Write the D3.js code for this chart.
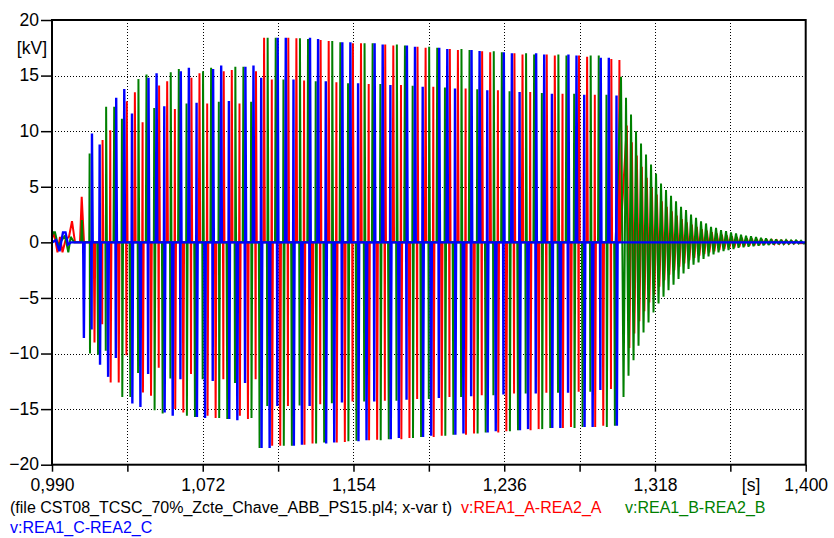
<!DOCTYPE html>
<html><head><meta charset="utf-8">
<script src="https://cdn.jsdelivr.net/npm/d3@7"></script>
<style>
body{margin:0;background:#fff}
svg{display:block}
text{font-family:"Liberation Sans",Arial,Helvetica,sans-serif}
</style>
</head><body>
<svg id="chart" width="834" height="538"></svg>
<script>
// ---------------- data ----------------
const xDomain = [0.990, 1.400];
const yDomain = [-20, 20];
const xTickTimes  = [0.990,1.031,1.072,1.113,1.154,1.195,1.236,1.277,1.318,1.359,1.400];
const xTickLabels = ["0,990","","1,072","","1,154","","1,236","","1,318","","1,400"];
const xUnitTime = 1.3703, xUnitText = "[s]";
const yTicks = [-20,-15,-10,-5,0,5,10,15,20];
const yUnitText = "[kV]";

const seriesNames  = ["v:REA1_A-REA2_A","v:REA1_B-REA2_B","v:REA1_C-REA2_C"];
const seriesColors = ["#ff0000","#008000","#0000ff"];
const fileLabel = "(file CST08_TCSC_70%_Zcte_Chave_ABB_PS15.pl4; x-var t)";

// small oscillations before the TCSC pulses: [time, kV]
const preRed   = [[0.9900,0.3],[0.99109,0.9],[0.99299,-0.9],[0.99435,0.5],[0.99571,-0.9],[0.99734,0.2],[0.99925,0.5],[1.00088,1.9],[1.00251,0],[1.00523,0],[1.00616,4.1],[1.00741,0],[1.01176,0]];
const preGreen = [[0.9900,0.6],[0.99082,0.9],[0.99163,0.9],[0.99343,-0.4],[0.9949,0.1],[0.99707,0.6],[0.99887,-0.9],[1.00017,0.5],[1.00197,0],[1.00414,0]];
const preBlue  = [[0.9900,0],[0.99218,0.2],[0.99408,-0.8],[0.99598,0.9],[0.99734,0.9],[0.9987,-0.2],[1.00034,0],[1.00523,0]];

// pulse peaks (kV), one per pulse, pulses evenly spaced by pulseStep from each start time
const pulseStep = 0.004393;
const redStart = 1.01312, greenStart = 1.00627, blueStart = 1.00735;
const redPeaks = [-9,9.2,-12.6,-12.6,12.7,13.5,-13.5,-13.8,14.1,14.5,-15.0,-15.3,14.8,15.2,-15.6,-15.8,
  15.4,15.5,-15.6,-15.9,15.4,18.4,-18.3,-18.3,18.4,18.35,-18.2,-18.1,18.2,18.1,-18.0,-17.95,
  17.9,17.9,-17.8,-17.75,17.8,17.7,-17.7,-17.6,17.6,17.5,-17.5,-17.4,17.4,17.3,-17.3,-17.2,
  17.2,17.1,-17.1,-17.0,17.0,16.9,-16.9,-16.8,16.9,16.8,-16.7,-16.6,16.8,16.7,-16.6,-16.5,16.5,16.4];
const greenPeaks = [2,-10,-10.1,12.2,12.2,-13.9,-13.9,14.7,15.1,-15.1,-15.4,15.3,15.6,-15.6,-15.7,15.4,
  15.7,-15.8,-15.9,15.8,15.8,-15.8,-18.5,18.4,18.4,-18.3,-18.3,18.35,18.3,-18.1,-18.0,18.1,
  18.0,-17.9,-17.85,17.9,17.9,-17.8,-17.7,17.8,17.7,-17.6,-17.5,17.6,17.5,-17.4,-17.3,17.4,
  17.3,-17.2,-17.1,17.2,17.1,-17.0,-16.9,17.0,16.9,-16.8,-16.7,16.9,16.8,-16.7,-16.6,16.8,16.8,-16.6,-16.5];
const bluePeaks = [-8.6,9.8,-11.0,-12.1,13.0,13.8,-14.5,-14.8,14.8,15.2,-15.3,-15.6,15.4,15.7,-15.7,-15.8,
  15.6,15.9,-15.9,-16.0,15.8,15.9,-18.5,-18.5,18.4,18.4,-18.3,-18.2,18.4,18.3,-18.1,-18.0,
  18.0,18.0,-17.9,-17.8,17.9,17.8,-17.7,-17.6,17.7,17.6,-17.5,-17.4,17.5,17.4,-17.3,-17.2,
  17.3,17.2,-17.1,-17.0,17.1,17.0,-16.9,-16.8,17.0,16.9,-16.7,-16.7,16.9,16.8,-16.6,-16.6,16.6,16.6,-16.5];
const swingRatio = 0.8;   // opposite excursion seen when a pulse changes sign

// damped oscillation after the pulses stop (alternating positive / negative peaks)
const decayHalfStep = 0.00136;
const greenDecayStart = 1.29954, redDecayStart = 1.30270;
const greenDecayPos = [14.9,13.0,11.5,10.0,8.9,7.9,7.0,6.2,5.3,4.7,4.2,3.7,3.2,2.9,2.5,2.2,1.9,1.7,1.4,1.3,1.1,1.0,0.9,0.8,0.7,0.6,0.54,0.48,0.4,0.36,0.3,0.27,0.24,0.21,0.18,0.18,0.15];
const greenDecayNeg = [-13.9,-12.0,-10.6,-9.3,-8.1,-7.2,-6.3,-5.5,-4.9,-4.3,-3.8,-3.3,-2.8,-2.4,-2.0,-1.8,-1.5,-1.26,-1.08,-0.9,-0.8,-0.7,-0.6,-0.5,-0.45,-0.4,-0.35,-0.3,-0.27,-0.24,-0.2,-0.18,-0.15,-0.13,-0.12,-0.1,-0.1];
const redDecayPos = [10.5,9.0,7.8,6.8,5.8,4.9,4.3,3.7,3.2,2.8,2.4,2.1,1.8,1.6,1.4,1.2,1.05,0.92,0.8,0.7,0.62,0.55,0.48,0.42,0.37,0.33,0.29,0.26,0.23,0.2,0.18,0.16,0.14,0.12,0.1];
const redDecayNeg = [-9.5,-8.2,-7.1,-6.2,-5.4,-4.7,-4.0,-3.4,-2.9,-2.5,-2.2,-1.9,-1.6,-1.4,-1.2,-1.05,-0.9,-0.8,-0.7,-0.6,-0.52,-0.46,-0.4,-0.35,-0.3,-0.27,-0.24,-0.2,-0.18,-0.16,-0.14,-0.12,-0.1,-0.09,-0.08];

// ---------------- build vertex lists ----------------
const pulseHalfWidth = 0.0004;
function buildSeries(pre, start, peaks, dStart, dPos, dNeg) {
  const pts = pre.map(d => [d[0], d[1]]);
  let prevSign = 0;
  peaks.forEach((v, i) => {
    const te = start + i * pulseStep, s = Math.sign(v);
    pts.push([te - pulseHalfWidth, 0]);
    if (prevSign && s !== prevSign) pts.push([te - pulseHalfWidth * 0.5, -swingRatio * v]);
    pts.push([te, v]);
    pts.push([te + pulseHalfWidth, 0]);
    prevSign = s;
  });
  if (dPos) {
    for (let j = 0; j < dPos.length; j++) {
      pts.push([dStart + 2 * j * decayHalfStep, dPos[j]]);
      if (j < dNeg.length) pts.push([dStart + (2 * j + 1) * decayHalfStep, dNeg[j]]);
    }
  }
  pts.push([xDomain[1] + 0.01, 0]);
  return pts;
}
const series = [
  buildSeries(preRed, redStart, redPeaks, redDecayStart, redDecayPos, redDecayNeg),
  buildSeries(preGreen, greenStart, greenPeaks, greenDecayStart, greenDecayPos, greenDecayNeg),
  buildSeries(preBlue, blueStart, bluePeaks, null, null, null)
];

// ---------------- drawing ----------------
const W = 834, H = 538;
const M = {left: 52, right: 28.3, top: 20, bottom: 73.3};
const svg = d3.select("#chart");
svg.append("rect").attr("width", W).attr("height", H).attr("fill", "#fff");

const x = d3.scaleLinear().domain(xDomain).range([M.left, W - M.right]);
const y = d3.scaleLinear().domain(yDomain).range([H - M.bottom, M.top]);

// grid
const grid = svg.append("g").attr("stroke", "#000").attr("stroke-width", 1).attr("stroke-dasharray", "1,2");
grid.selectAll("line.v").data(xTickTimes.slice(1, -1)).join("line")
  .attr("x1", d => Math.round(x(d)) + 0.5).attr("x2", d => Math.round(x(d)) + 0.5)
  .attr("y1", y(20)).attr("y2", y(-20));
grid.selectAll("line.h").data(yTicks.filter(d => d > -20 && d < 20)).join("line")
  .attr("y1", d => Math.round(y(d)) + 0.5).attr("y2", d => Math.round(y(d)) + 0.5)
  .attr("x1", x(xDomain[0])).attr("x2", x(xDomain[1]));

// curves
svg.append("clipPath").attr("id", "clip").append("rect")
  .attr("x", x(xDomain[0])).attr("y", y(20) - 2).attr("width", x(xDomain[1]) - x(xDomain[0])).attr("height", y(-20) - y(20) + 4);
const line = d3.line().x(d => x(d[0])).y(d => y(d[1]));
const curves = svg.append("g").attr("clip-path", "url(#clip)");
series.forEach((pts, k) => {
  curves.append("path").datum(pts).attr("d", line)
    .attr("fill", "none").attr("stroke", seriesColors[k])
    .attr("stroke-width", k === 2 ? 2.4 : 2).attr("stroke-linejoin", "miter").attr("stroke-miterlimit", 2);
});

// frame
svg.append("rect").attr("x", x(xDomain[0])).attr("y", y(20))
  .attr("width", x(xDomain[1]) - x(xDomain[0])).attr("height", y(-20) - y(20))
  .attr("fill", "none").attr("stroke", "#000").attr("stroke-width", 2);

// axes
const fs = 17.5;
const xAxis = d3.axisBottom(x).tickValues(xTickTimes).tickSize(7).tickPadding(7)
  .tickFormat((d, i) => xTickLabels[i]);
const gx = svg.append("g").attr("transform", `translate(0,${y(-20)})`).call(xAxis);
gx.select(".domain").remove();
gx.selectAll(".tick line").attr("stroke", "#000").attr("stroke-width", 1.5);
gx.selectAll(".tick text").attr("fill", "#000").style("font-size", fs + "px").style("font-family", '"Liberation Sans",Arial,sans-serif');
gx.append("text").attr("x", x(xUnitTime)).attr("y", 7 + 7).attr("dy", "0.71em")
  .attr("text-anchor", "middle").attr("fill", "#000").style("font-size", fs + "px").text(xUnitText);

const yAxis = d3.axisLeft(y).tickValues(yTicks).tickSize(11).tickPadding(2).tickFormat(d3.format("d"));
const gy = svg.append("g").attr("transform", `translate(${x(xDomain[0])},0)`).call(yAxis);
gy.select(".domain").remove();
gy.selectAll(".tick line").attr("stroke", "#000").attr("stroke-width", 1.5);
gy.selectAll(".tick text").attr("fill", "#000").attr("dy", "0.3em").style("font-size", fs + "px").style("font-family", '"Liberation Sans",Arial,sans-serif');
svg.append("text").attr("x", x(xDomain[0]) - 5).attr("y", y(17.5)).attr("dy", "0.35em")
  .attr("text-anchor", "end").attr("fill", "#000").style("font-size", fs + "px").text(yUnitText);

// legend
const lfs = 16;
const leg = svg.append("g").style("font-size", lfs + "px");
leg.append("text").attr("x", 10).attr("y", 513).attr("fill", "#000").text(fileLabel);
leg.append("text").attr("x", 461).attr("y", 513).attr("fill", seriesColors[0]).text(seriesNames[0]);
leg.append("text").attr("x", 625).attr("y", 513).attr("fill", seriesColors[1]).text(seriesNames[1]);
leg.append("text").attr("x", 10).attr("y", 533).attr("fill", seriesColors[2]).text(seriesNames[2]);
</script>
</body></html>
